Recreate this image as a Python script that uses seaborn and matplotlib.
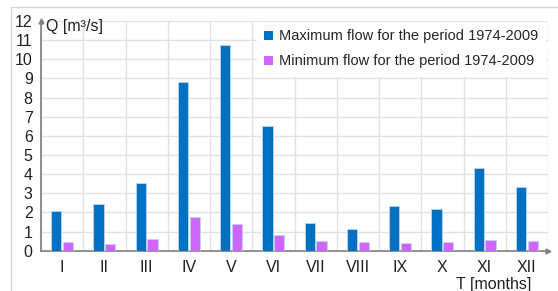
import pandas as pd
import matplotlib.pyplot as plt
import seaborn as sns
from matplotlib.patches import Rectangle

# ==============================
# Data
# ==============================

months = ['I', 'II', 'III', 'IV', 'V', 'VI', 'VII', 'VIII', 'IX', 'X', 'XI', 'XII']
max_flow = [2.07, 2.44, 3.54, 8.81, 10.73, 6.53, 1.43, 1.12, 2.34, 2.18, 4.34, 3.33]
min_flow = [0.47, 0.33, 0.60, 1.76, 1.38, 0.84, 0.50, 0.44, 0.40, 0.47, 0.56, 0.50]

max_label = 'Maximum flow for the period 1974-2009'
min_label = 'Minimum flow for the period 1974-2009'

df = pd.DataFrame({
    'Month': months * 2,
    'Q': max_flow + min_flow,
    'Series': [max_label] * len(months) + [min_label] * len(months),
})

# ==============================
# Style
# ==============================

sns.set_style("white")
plt.rcParams['font.family'] = ['Liberation Sans', 'DejaVu Sans']

fig = plt.figure(figsize=(5.58, 2.91), dpi=100)
ax = fig.add_axes([41 / 558, 40.3 / 291, 507 / 558, 229.7 / 291])

# outer frame of the chart
fig.patches.append(Rectangle((11 / 558, -0.1), 1.2, 1.1 - 7 / 291,
                             transform=fig.transFigure, fill=False,
                             edgecolor='#d6d6d6', linewidth=1.0))

sns.barplot(data=df, x='Month', y='Q', hue='Series', order=months,
            palette=['#0070C0', '#CC66FF'], saturation=1, width=0.55, gap=0.12,
            edgecolor='#bcd6f0', linewidth=0.6, ax=ax, zorder=3)

ax.set_xlim(-0.5, 11.5)
ax.set_ylim(0, 12)
ax.set_yticks(range(0, 13))
ax.set_xticks([i + 0.5 for i in range(-1, 12)], minor=True)
ax.grid(True, which='major', axis='y', color='#e2e2e2', linewidth=1.0, zorder=0)
ax.grid(True, which='minor', axis='x', color='#e2e2e2', linewidth=1.0, zorder=0)
ax.set_axisbelow(True)
ax.tick_params(axis='both', which='both', length=0, labelsize=11.5, colors='#202020')
ax.tick_params(axis='x', pad=7)
ax.tick_params(axis='y', pad=6)
ax.set_xlabel('')
ax.set_ylabel('')

for side in ['top', 'right']:
    ax.spines[side].set_visible(False)
for side in ['left', 'bottom']:
    ax.spines[side].set_color('#7f7f7f')
    ax.spines[side].set_linewidth(1.2)

# axis arrows
ax.plot(0, 1, '^', color='#7f7f7f', markersize=3.5, transform=ax.transAxes, clip_on=False)
ax.plot(1, 0, '>', color='#7f7f7f', markersize=3.5, transform=ax.transAxes, clip_on=False)

fig.text(46 / 558, 1 - 27 / 291, 'Q [m³/s]', fontsize=11.5, va='center', ha='left', color='#202020')
fig.text(494 / 558, 1 - 284 / 291, 'T [months]', fontsize=11.5, va='center', ha='center', color='#202020')

leg = ax.legend(loc='upper right', bbox_to_anchor=(0.995, 0.995), frameon=True,
                fontsize=10.5, handlelength=0.6, handleheight=0.6, handletextpad=0.4,
                borderaxespad=0, labelspacing=0.75, borderpad=0.5)
leg.get_frame().set_edgecolor('white')
leg.get_frame().set_facecolor('white')
leg.get_frame().set_alpha(1)
leg.get_frame().set_boxstyle('square', pad=0)
for h in leg.legend_handles:
    h.set_edgecolor('none')

fig.savefig('out.png', dpi=100)
plt.close()
